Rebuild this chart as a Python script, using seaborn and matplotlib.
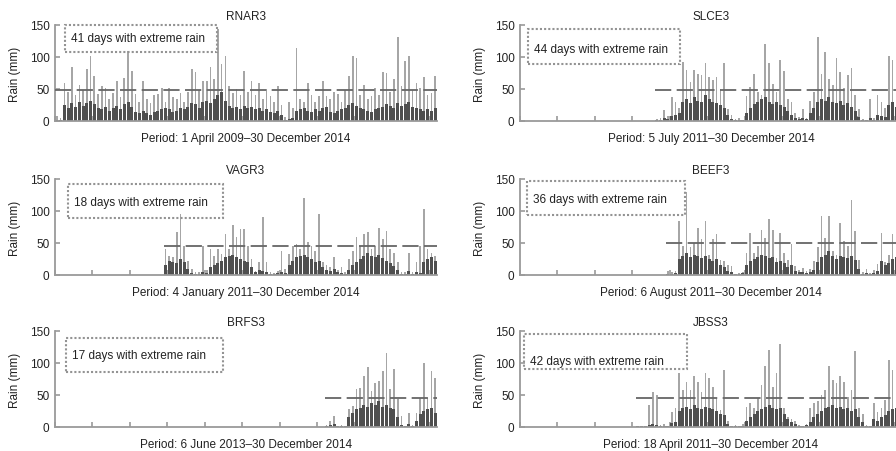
import numpy as np
import matplotlib.pyplot as plt
import matplotlib.patches as mpatches
import seaborn as sns
import pandas as pd

# Daily rain summarised per 20-day bin:
# "peak" = tallest day in the bin, "body" = level of the dense dark mass.
BIN = 20
N_BINS = 102

stations = ["RNAR3", "SLCE3", "VAGR3", "BEEF3", "BRFS3", "JBSS3"]
periods = [
    "Period: 1 April 2009\u201330 December 2014",
    "Period: 5 July 2011\u201330 December 2014",
    "Period: 4 January 2011\u201330 December 2014",
    "Period: 6 August 2011\u201330 December 2014",
    "Period: 6 June 2013\u201330 December 2014",
    "Period: 18 April 2011\u201330 December 2014",
]
extreme_days = [41, 44, 18, 36, 17, 42]
thresholds = [49, 48, 46, 50, 46, 46]
start_bins = [0, 36, 29, 39, 72, 31]

rnar3_peak = [8, 5, 60, 45, 84, 40, 57, 48, 81, 101,
              70, 42, 55, 52, 35, 44, 63, 38, 67, 110,
              78, 42, 30, 63, 34, 28, 40, 42, 51, 30,
              52, 38, 35, 44, 30, 45, 82, 77, 48, 63,
              63, 84, 65, 144, 89, 102, 55, 44, 50, 40,
              78, 45, 63, 40, 60, 35, 50, 39, 30, 55,
              25, 6, 29, 20, 114, 35, 30, 60, 40, 30,
              39, 63, 39, 35, 45, 42, 30, 48, 71, 101,
              98, 40, 57, 35, 39, 52, 40, 77, 75, 45,
              65, 132, 55, 94, 102, 48, 60, 52, 68, 40,
              44, 71]
rnar3_body = [2, 2,
              25, 20, 28, 22, 30, 24, 28, 32, 26, 20,
              18, 22, 15, 20, 24, 18, 26, 30, 22, 14, 12,
              15, 12, 10, 14, 16, 18,
              20, 18, 14, 16, 20, 18, 22, 28, 26, 20,
              30, 32, 28, 35, 40, 45, 32, 24, 20, 22,
              18, 24, 20, 22, 18, 20, 16, 18, 14, 12, 15, 10,
              2, 3, 5,
              15, 18, 20, 16, 14, 18, 15, 20, 22, 14, 12, 16,
              18, 20, 25, 28, 24, 20, 18, 16, 14, 18, 20, 22, 26, 24, 20,
              28, 24, 26, 30, 22, 20, 18, 16, 18, 15, 20]

slce3_peak = [3, 4, 17, 8, 38, 30, 20, 92, 79, 61,
              79, 74, 72, 90, 69, 64, 69, 50, 90, 19,
              9, 3, 4, 2, 39, 53, 73, 45, 40, 120,
              91, 58, 45, 95, 78, 35, 30, 12, 6, 19,
              5, 31, 45, 131, 74, 108, 66, 56, 98, 77,
              51, 72, 83, 40, 19, 3, 2, 35, 4, 40,
              30, 20, 102, 95, 51, 56]
slce3_body = [1, 2, 4, 3,
              8, 10, 12,
              30, 35, 28, 38, 32, 30, 40, 35, 30, 28, 25, 20, 10,
              3, 2, 2, 2,
              12, 20, 26, 30, 35, 38, 30, 26, 30, 25, 22, 15, 10, 5,
              3, 4, 3,
              12, 20, 30, 35, 32, 38, 30, 28, 32, 25, 28, 22, 15, 6,
              2, 2, 4, 2,
              10, 8, 6, 25, 30, 22, 26]

vagr3_peak = [41, 30, 28, 67, 95, 46, 22, 10, 5, 4,
              46, 8, 41, 30, 41, 33, 64, 40, 78, 59,
              72, 72, 45, 25, 7, 20, 90, 20, 4, 3,
              7, 38, 10, 33, 46, 48, 40, 120, 51, 46,
              38, 95, 20, 15, 12, 28, 8, 12, 5, 25,
              38, 60, 45, 64, 67, 41, 46, 73, 56, 69,
              40, 35, 20, 5, 4, 35, 4, 20, 46, 103,
              41, 34, 30]
vagr3_body = [15, 22, 20, 18, 25, 20, 10,
              3, 2, 2, 4, 3,
              12, 15, 18, 22, 28, 30, 32, 28, 25, 22, 20, 12,
              4, 8, 6, 5,
              2, 2, 3, 4, 3,
              15, 22, 28, 30, 32, 28, 25, 20, 22,
              12, 8, 6, 10, 4, 3, 2, 8,
              15, 20, 25, 30, 35, 30, 28, 32, 26, 22, 18, 14, 8,
              2, 2, 6, 2, 4, 3,
              20, 25, 28, 22]

beef3_peak = [7, 4, 6, 84, 45, 130, 43, 50, 74, 56,
              84, 32, 56, 64, 24, 22, 15, 14, 2, 3,
              4, 35, 65, 35, 45, 70, 58, 87, 71, 27,
              66, 35, 24, 48, 14, 8, 11, 6, 10, 22,
              43, 92, 58, 92, 37, 32, 82, 53, 45, 117,
              69, 24, 5, 9, 3, 8, 17, 66, 20, 32,
              64, 71, 40]
beef3_body = [2, 2, 3,
              25, 30, 35, 28, 32, 30, 26, 30, 25, 22, 25, 15, 12,
              6, 5, 2, 2,
              3, 15, 22, 25, 28, 32, 30, 26, 28, 20, 22, 18, 12, 15, 6,
              4, 5, 3, 5, 8,
              20, 28, 32, 38, 30, 25, 30, 28, 26, 30, 24, 10,
              2, 3, 2, 3,
              6, 22, 15, 18, 25, 28, 24]

brfs3_peak = [3, 9, 17, 2, 3, 2, 28, 33, 59, 61,
              80, 93, 56, 69, 72, 88, 116, 59, 90, 43,
              17, 2, 22, 3, 22, 46, 100, 45, 88, 77]
brfs3_body = [1, 3, 5,
              2, 2, 2,
              15, 22, 28, 30, 35, 32, 38, 35, 40, 32, 35, 30, 28, 15,
              3, 2, 5, 2,
              10, 20, 25, 28, 30, 22]

jbss3_peak = [2, 2, 1, 34, 55, 50, 3, 5, 2, 24,
              29, 85, 58, 71, 58, 79, 71, 55, 84, 76,
              63, 45, 26, 89, 10, 2, 3, 2, 4, 32,
              37, 30, 45, 66, 95, 121, 63, 84, 130, 29,
              16, 13, 10, 3, 2, 4, 29, 37, 40, 50,
              58, 95, 74, 68, 79, 71, 47, 58, 118, 29,
              21, 3, 2, 37, 24, 29, 42, 104, 89, 63,
              45]
jbss3_body = [1, 1, 1, 3, 5, 3, 1, 2, 1, 6, 8,
              25, 30, 32, 28, 35, 30, 28, 32, 30, 28, 25, 20, 18, 5,
              2, 2, 2, 2,
              10, 15, 20, 25, 28, 32, 35, 30, 28, 30, 20, 12, 8, 5,
              2, 2, 3, 8,
              15, 20, 25, 30, 32, 35, 30, 32, 28, 30, 25, 28, 15, 8,
              2, 2,
              12, 10, 15, 18, 25, 28, 30, 22]

peaks = [rnar3_peak, slce3_peak, vagr3_peak, beef3_peak, brfs3_peak, jbss3_peak]
bodies = [rnar3_body, slce3_body, vagr3_body, beef3_body, brfs3_body, jbss3_body]

# text box extents in axes fraction: x0, y0, x1, y1, text y
boxes = [
    (0.026, 0.72, 0.424, 1.0, 0.86),
    (0.021, 0.59, 0.42, 0.955, 0.755),
    (0.033, 0.594, 0.44, 0.95, 0.76),
    (0.018, 0.62, 0.433, 0.98, 0.795),
    (0.029, 0.573, 0.44, 0.93, 0.75),
    (0.010, 0.603, 0.436, 0.964, 0.684),
]

sns.set_style("white")
plt.rcParams["font.family"] = ["Liberation Sans", "DejaVu Sans"]

W, H = 896, 452
fig = plt.figure(figsize=(W / 100, H / 100), dpi=100)

col_left = [55, 520]
row_top = [26, 180, 332]
ax_w, ax_h = 382, 96

PEAK_C = "#a6a6a6"
BODY_C = "#4f4f4f"
AXIS_C = "#9a9a9a"
TEXT_C = "#222222"

for k, name in enumerate(stations):
    r, c = divmod(k, 2)
    ax = fig.add_axes([col_left[c] / W, 1 - (row_top[r] + ax_h) / H, ax_w / W, ax_h / H])

    sb = start_bins[k]
    df = pd.DataFrame({
        "day": (np.arange(sb, N_BINS) + 0.5) * BIN,
        "peak": peaks[k],
        "body": bodies[k],
    })

    sns.histplot(data=df, x="day", weights="peak", binwidth=BIN,
                 binrange=(sb * BIN, N_BINS * BIN), shrink=0.45,
                 color=PEAK_C, alpha=1, linewidth=0, ax=ax)
    sns.histplot(data=df, x="day", weights="body", binwidth=BIN,
                 binrange=(sb * BIN, N_BINS * BIN), shrink=0.8,
                 color=BODY_C, alpha=1, linewidth=0, ax=ax)

    ax.hlines(thresholds[k], sb * BIN, N_BINS * BIN, colors="#666666",
              linestyles=(0, (9, 3)), linewidth=1.3, zorder=4)

    x0, y0, x1, y1, ty = boxes[k]
    ax.add_patch(mpatches.Rectangle((x0, y0), x1 - x0, y1 - y0, transform=ax.transAxes,
                                    fill=False, edgecolor="#939393", linewidth=1.5,
                                    linestyle=(0, (1, 1)), clip_on=False, zorder=5))
    ax.text(x0 + 0.016, ty, f"{extreme_days[k]} days with extreme rain",
            transform=ax.transAxes, ha="left", va="center", fontsize=8.5, color=TEXT_C)

    ax.set_xlim(0, N_BINS * BIN)
    ax.set_ylim(0, 150)
    ax.set_xticks(np.arange(0, N_BINS * BIN + 1, 200))
    ax.set_xticklabels([])
    ax.set_yticks([0, 50, 100, 150])
    ax.tick_params(bottom=True, left=True, direction="in", length=3.5, width=1.2,
                   color=AXIS_C, labelsize=8.5, labelcolor=TEXT_C, pad=4)
    ax.set_title(name, fontsize=8.5, color=TEXT_C, pad=4)
    ax.set_xlabel(periods[k], fontsize=8.5, color=TEXT_C, labelpad=4)
    ax.set_ylabel("Rain (mm)", fontsize=8.5, color=TEXT_C, labelpad=6)

    sns.despine(ax=ax)
    for side in ("left", "bottom"):
        ax.spines[side].set_color(AXIS_C)
        ax.spines[side].set_linewidth(1.3)

fig.savefig("out.png", dpi=100)
